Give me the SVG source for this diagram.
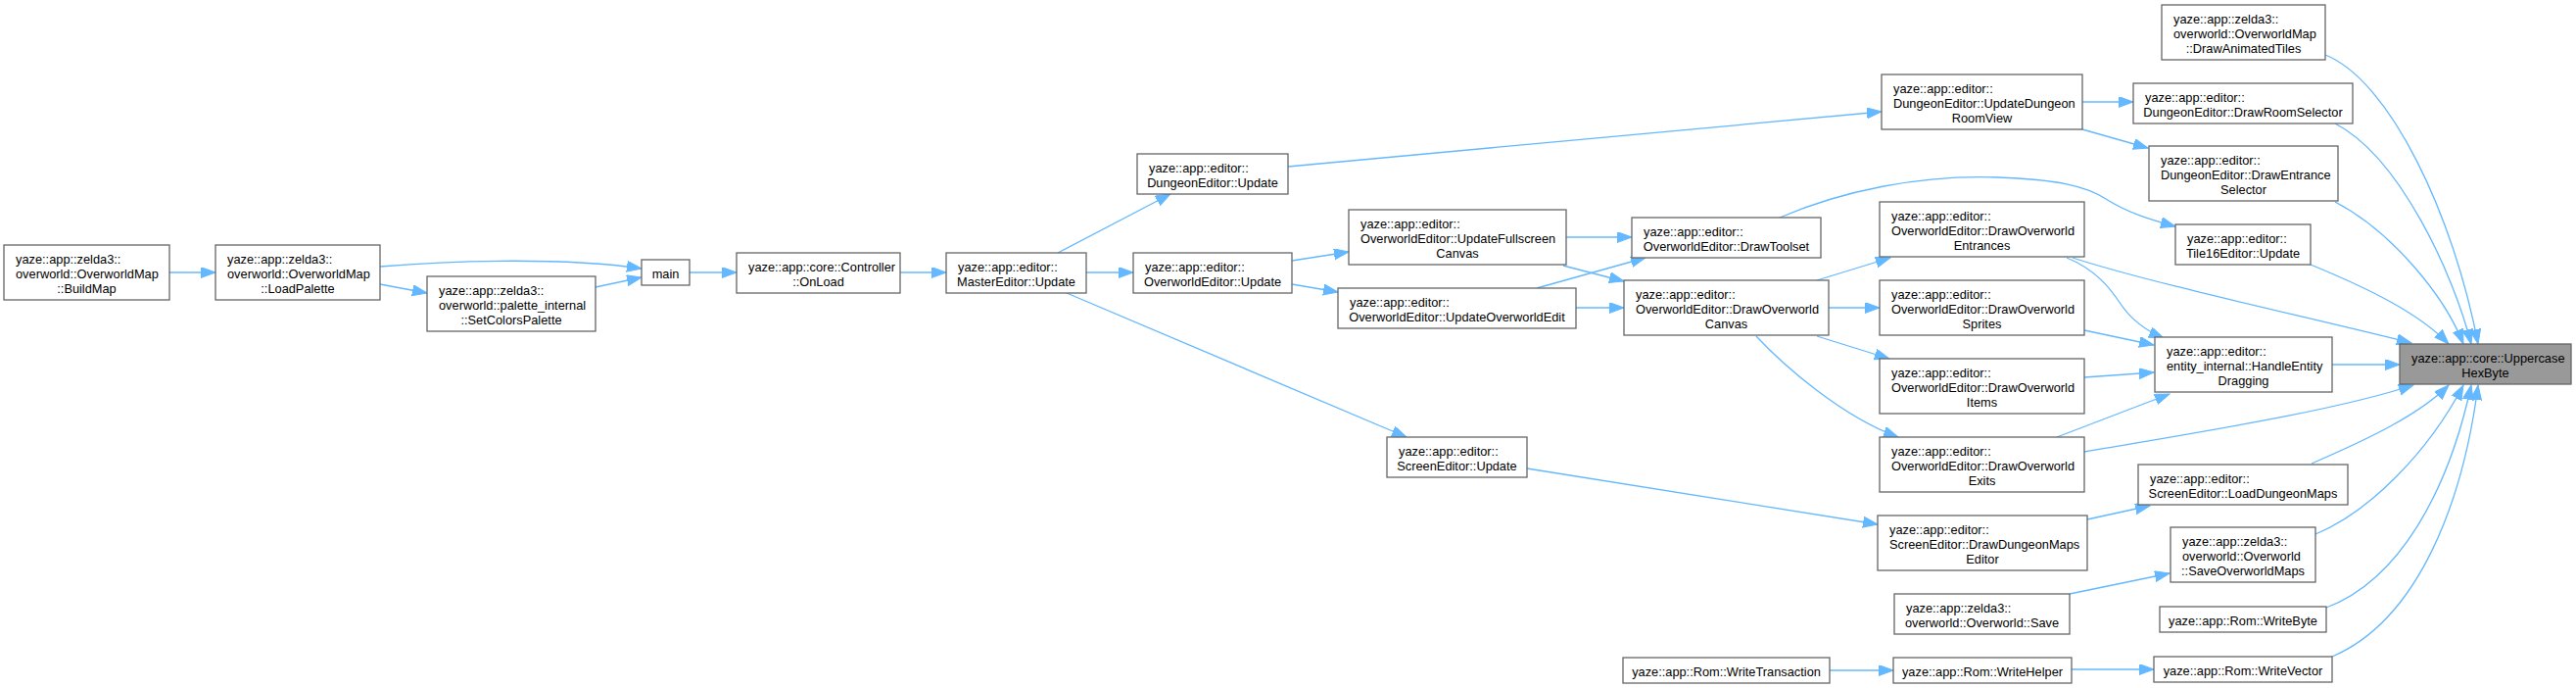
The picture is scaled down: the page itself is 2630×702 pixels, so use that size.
<svg xmlns="http://www.w3.org/2000/svg" width="2630" height="702" viewBox="0 0 2630 702">
<defs>
<style>
.n rect{fill:#ffffff;stroke:#666666;stroke-width:1.3}
.n.hl rect{fill:#999999}
.n text{font-family:"Liberation Sans",Arial,Helvetica,sans-serif;font-size:12.8px;fill:#000000}
.n text.c{text-anchor:middle}
#edges path{fill:none;stroke:#63b8ff;stroke-width:1.3;marker-end:url(#arr)}
</style>
<marker id="arr" markerUnits="userSpaceOnUse" markerWidth="16" markerHeight="12" refX="15" refY="5.5" orient="auto">
<path d="M0,0 L15,5.5 L0,11 Z" fill="#63b8ff" stroke="#63b8ff" stroke-width="1"/>
</marker>
</defs>
<rect x="0" y="0" width="2630" height="702" fill="#ffffff"/>
<g id="edges">
<path d="M173,278 L220,278"/>
<path d="M388,272 C470,265 580,263 655,274"/>
<path d="M388,290 L436,299"/>
<path d="M608,293 L655,283"/>
<path d="M704,278 L752,278"/>
<path d="M919,278 L966,278"/>
<path d="M1080,258 L1195,198"/>
<path d="M1109,278 L1157,278"/>
<path d="M1089,299 L1436,446"/>
<path d="M1315,170 L1921,114"/>
<path d="M1319,266 L1377,257"/>
<path d="M1319,290 L1366,298"/>
<path d="M1599,242 L1666,242"/>
<path d="M1596,271 L1658,287"/>
<path d="M1569,294 L1680,263"/>
<path d="M1609,314 L1658,314"/>
<path d="M1817,222 C1880,195 1960,178 2040,181 C2100,183 2130,190 2150,203 C2172,217 2195,224 2221,231"/>
<path d="M1855,286 L1930,263"/>
<path d="M1867,314 L1919,314"/>
<path d="M1855,343 L1929,366"/>
<path d="M1793,343 C1820,372 1880,425 1938,446"/>
<path d="M2126,104 L2178,104"/>
<path d="M2126,132 L2193,151"/>
<path d="M2110,263 C2140,275 2155,295 2165,310 C2175,325 2190,337 2209,345"/>
<path d="M2116,263 C2200,290 2350,322 2462,350"/>
<path d="M2128,337 L2199,352"/>
<path d="M2128,385 L2199,380"/>
<path d="M2100,446 L2215,402"/>
<path d="M2128,461 C2250,440 2380,420 2464,393"/>
<path d="M2381,372 L2450,372"/>
<path d="M1559,478 L1917,535"/>
<path d="M2131,530 L2195,516"/>
<path d="M2360,473 C2420,447 2470,423 2500,393"/>
<path d="M2113,606 L2215,585"/>
<path d="M2364,545 C2420,522 2480,460 2515,393"/>
<path d="M2375,620 C2450,592 2500,500 2523,393"/>
<path d="M2381,670 C2470,632 2515,510 2530,393"/>
<path d="M1868,684 L1933,684"/>
<path d="M2115,683 L2199,683"/>
<path d="M2374,56 C2440,82 2505,220 2530,351"/>
<path d="M2384,126 C2450,160 2505,280 2523,351"/>
<path d="M2384,206 C2440,235 2495,300 2515,351"/>
<path d="M2359,270 C2420,295 2470,320 2500,351"/>
</g>
<g id="n_buildmap" class="n"><rect x="4" y="250" width="169" height="56"/><text x="16" y="268.5">yaze::app::zelda3::</text><text x="16" y="283.5">overworld::OverworldMap</text><text class="c" x="88.5" y="298.5">::BuildMap</text></g>
<g id="n_loadpalette" class="n"><rect x="220" y="250" width="168" height="56"/><text x="232" y="268.5">yaze::app::zelda3::</text><text x="232" y="283.5">overworld::OverworldMap</text><text class="c" x="304" y="298.5">::LoadPalette</text></g>
<g id="n_setcolors" class="n"><rect x="436" y="282" width="172" height="56"/><text x="448" y="300.5">yaze::app::zelda3::</text><text x="448" y="315.5">overworld::palette_internal</text><text class="c" x="522" y="330.5">::SetColorsPalette</text></g>
<g id="n_main" class="n"><rect x="655" y="265" width="49" height="26"/><text class="c" x="679.5" y="283.5">main</text></g>
<g id="n_onload" class="n"><rect x="752" y="258" width="167" height="41"/><text x="764" y="276.5">yaze::app::core::Controller</text><text class="c" x="835.5" y="291.5">::OnLoad</text></g>
<g id="n_master" class="n"><rect x="966" y="258" width="143" height="41"/><text x="978" y="276.5">yaze::app::editor::</text><text class="c" x="1037.5" y="291.5">MasterEditor::Update</text></g>
<g id="n_dungeonupdate" class="n"><rect x="1161" y="157" width="154" height="41"/><text x="1173" y="175.5">yaze::app::editor::</text><text class="c" x="1238" y="190.5">DungeonEditor::Update</text></g>
<g id="n_owupdate" class="n"><rect x="1157" y="258" width="162" height="41"/><text x="1169" y="276.5">yaze::app::editor::</text><text class="c" x="1238" y="291.5">OverworldEditor::Update</text></g>
<g id="n_ufc" class="n"><rect x="1377" y="214" width="222" height="56"/><text x="1389" y="232.5">yaze::app::editor::</text><text x="1389" y="247.5">OverworldEditor::UpdateFullscreen</text><text class="c" x="1488" y="262.5">Canvas</text></g>
<g id="n_uoe" class="n"><rect x="1366" y="294" width="243" height="41"/><text x="1378" y="312.5">yaze::app::editor::</text><text class="c" x="1487.5" y="327.5">OverworldEditor::UpdateOverworldEdit</text></g>
<g id="n_screenupdate" class="n"><rect x="1416" y="446" width="143" height="41"/><text x="1428" y="464.5">yaze::app::editor::</text><text class="c" x="1487.5" y="479.5">ScreenEditor::Update</text></g>
<g id="n_drawtoolset" class="n"><rect x="1666" y="222" width="193" height="41"/><text x="1678" y="240.5">yaze::app::editor::</text><text class="c" x="1762.5" y="255.5">OverworldEditor::DrawToolset</text></g>
<g id="n_doc" class="n"><rect x="1658" y="286" width="209" height="56"/><text x="1670" y="304.5">yaze::app::editor::</text><text x="1670" y="319.5">OverworldEditor::DrawOverworld</text><text class="c" x="1762.5" y="334.5">Canvas</text></g>
<g id="n_writetransaction" class="n"><rect x="1657" y="671" width="211" height="26"/><text class="c" x="1762.5" y="689.5">yaze::app::Rom::WriteTransaction</text></g>
<g id="n_udrv" class="n"><rect x="1921" y="76" width="205" height="56"/><text x="1933" y="94.5">yaze::app::editor::</text><text x="1933" y="109.5">DungeonEditor::UpdateDungeon</text><text class="c" x="2023.5" y="124.5">RoomView</text></g>
<g id="n_entrances" class="n"><rect x="1919" y="206" width="209" height="56"/><text x="1931" y="224.5">yaze::app::editor::</text><text x="1931" y="239.5">OverworldEditor::DrawOverworld</text><text class="c" x="2023.5" y="254.5">Entrances</text></g>
<g id="n_sprites" class="n"><rect x="1919" y="286" width="209" height="56"/><text x="1931" y="304.5">yaze::app::editor::</text><text x="1931" y="319.5">OverworldEditor::DrawOverworld</text><text class="c" x="2023.5" y="334.5">Sprites</text></g>
<g id="n_items" class="n"><rect x="1919" y="366" width="209" height="56"/><text x="1931" y="384.5">yaze::app::editor::</text><text x="1931" y="399.5">OverworldEditor::DrawOverworld</text><text class="c" x="2023.5" y="414.5">Items</text></g>
<g id="n_exits" class="n"><rect x="1919" y="446" width="209" height="56"/><text x="1931" y="464.5">yaze::app::editor::</text><text x="1931" y="479.5">OverworldEditor::DrawOverworld</text><text class="c" x="2023.5" y="494.5">Exits</text></g>
<g id="n_ddme" class="n"><rect x="1917" y="526" width="214" height="56"/><text x="1929" y="544.5">yaze::app::editor::</text><text x="1929" y="559.5">ScreenEditor::DrawDungeonMaps</text><text class="c" x="2024" y="574.5">Editor</text></g>
<g id="n_owsave" class="n"><rect x="1934" y="606" width="179" height="41"/><text x="1946" y="624.5">yaze::app::zelda3::</text><text class="c" x="2023.5" y="639.5">overworld::Overworld::Save</text></g>
<g id="n_writehelper" class="n"><rect x="1933" y="671" width="182" height="26"/><text class="c" x="2024" y="689.5">yaze::app::Rom::WriteHelper</text></g>
<g id="n_animtiles" class="n"><rect x="2207" y="5" width="167" height="56"/><text x="2219" y="23.5">yaze::app::zelda3::</text><text x="2219" y="38.5">overworld::OverworldMap</text><text class="c" x="2290.5" y="53.5">::DrawAnimatedTiles</text></g>
<g id="n_roomsel" class="n"><rect x="2178" y="85" width="224" height="41"/><text x="2190" y="103.5">yaze::app::editor::</text><text class="c" x="2290" y="118.5">DungeonEditor::DrawRoomSelector</text></g>
<g id="n_entrancesel" class="n"><rect x="2194" y="149" width="193" height="56"/><text x="2206" y="167.5">yaze::app::editor::</text><text x="2206" y="182.5">DungeonEditor::DrawEntrance</text><text class="c" x="2290.5" y="197.5">Selector</text></g>
<g id="n_tile16" class="n"><rect x="2221" y="229" width="138" height="41"/><text x="2233" y="247.5">yaze::app::editor::</text><text class="c" x="2290" y="262.5">Tile16Editor::Update</text></g>
<g id="n_hed" class="n"><rect x="2200" y="344" width="181" height="56"/><text x="2212" y="362.5">yaze::app::editor::</text><text x="2212" y="377.5">entity_internal::HandleEntity</text><text class="c" x="2290.5" y="392.5">Dragging</text></g>
<g id="n_ldm" class="n"><rect x="2183" y="474" width="214" height="41"/><text x="2195" y="492.5">yaze::app::editor::</text><text class="c" x="2290" y="507.5">ScreenEditor::LoadDungeonMaps</text></g>
<g id="n_som" class="n"><rect x="2216" y="538" width="148" height="56"/><text x="2228" y="556.5">yaze::app::zelda3::</text><text x="2228" y="571.5">overworld::Overworld</text><text class="c" x="2290" y="586.5">::SaveOverworldMaps</text></g>
<g id="n_writebyte" class="n"><rect x="2205" y="619" width="170" height="26"/><text class="c" x="2290" y="637.5">yaze::app::Rom::WriteByte</text></g>
<g id="n_writevector" class="n"><rect x="2199" y="670" width="182" height="26"/><text class="c" x="2290" y="688.5">yaze::app::Rom::WriteVector</text></g>
<g id="n_uhb" class="n hl"><rect x="2450" y="351" width="175" height="41"/><text x="2462" y="369.5">yaze::app::core::Uppercase</text><text class="c" x="2537.5" y="384.5">HexByte</text></g>
</svg>
